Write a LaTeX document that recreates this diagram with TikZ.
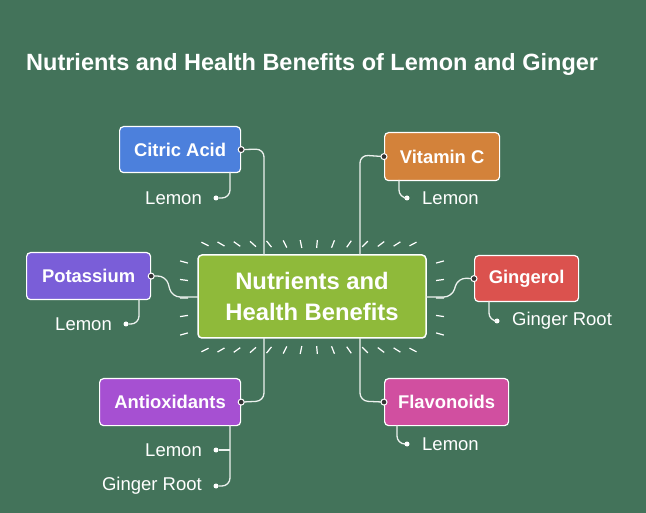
\documentclass[tikz,border=0pt]{standalone}
\usepackage{fontspec}
\setmainfont{Liberation Sans}
\usetikzlibrary{calc}
\definecolor{bg}{HTML}{43735A}
\definecolor{cblue}{HTML}{4C80DC}
\definecolor{corange}{HTML}{D3823A}
\definecolor{cpurple}{HTML}{7A5ED8}
\definecolor{cred}{HTML}{DB524E}
\definecolor{cviolet}{HTML}{A650D2}
\definecolor{cpink}{HTML}{D14FA0}
\definecolor{cgreen}{HTML}{8FBA3A}
\tikzset{
  box/.style={draw=white, line width=1.2pt, rounded corners=4pt, text=white, font=\bfseries\fontsize{18.4}{20}\selectfont, inner sep=0pt, anchor=north west},
  lab/.style={text=white, font=\fontsize{18.5}{20}\selectfont, inner sep=0pt},
  con/.style={draw=white!90!bg, line width=1.3pt, rounded corners=8pt},
  dot/.style={circle, fill=white, inner sep=0pt, minimum size=5pt},
  pin/.style={circle, fill=black!80, draw=white, line width=1pt, inner sep=0pt, minimum size=6pt},
  ray/.style={draw=white, line width=1.2pt}
}
\begin{document}
\begin{tikzpicture}[x=1pt,y=-1pt]
\fill[bg] (0,0) rectangle (646,513);
\useasboundingbox (0,0) rectangle (646,513);
\node[anchor=west, text=white, font=\bfseries\fontsize{23.5}{26}\selectfont, inner sep=0pt] (title) at (26,64) {Nutrients and Health Benefits of Lemon and Ginger};
% center
\coordinate (c) at (312,297);
\foreach \x in {205,221,...,421} {
  \foreach \y in {244,350} {
    \coordinate (p) at (\x,\y);
    \draw[ray] ($(p)!4pt!(c)$) -- ($(p)!-4pt!(c)$);
  }
}
\foreach \y in {262,280,298,316,334} {
  \foreach \x in {184,440} {
    \coordinate (p) at (\x,\y);
    \draw[ray] ($(p)!4pt!(c)$) -- ($(p)!-4pt!(c)$);
  }
}
\node[box, fill=cgreen, minimum width=228pt, minimum height=83pt, anchor=center, font=\bfseries\fontsize{23.8}{31}\selectfont, align=center, line width=1.5pt] (center) at (312,296.5) {Nutrients and\\Health Benefits};
% boxes
\node[box, fill=cblue, minimum width=121pt, minimum height=46pt] (ca) at (119,126) {Citric Acid};
\node[box, fill=corange, minimum width=115pt, minimum height=48pt] (vc) at (384,132) {Vitamin C};
\node[box, fill=cpurple, minimum width=124pt, minimum height=47pt] (po) at (26,252) {Potassium};
\node[box, fill=cred, minimum width=104pt, minimum height=46pt] (gi) at (474,255) {Gingerol};
\node[box, fill=cviolet, minimum width=141pt, minimum height=47pt] (an) at (99,378) {Antioxidants};
\node[box, fill=cpink, minimum width=124pt, minimum height=47pt] (fl) at (384,378) {Flavonoids};
% main connectors
\coordinate (cat) at (264,255); \coordinate (vct) at (360,255);
\coordinate (anb) at (264,338); \coordinate (flb) at (360,338);
\coordinate (cl) at (198,297); \coordinate (cr) at (426,297);
\draw[con] (ca.east) -- (264,149) -- (cat);
\draw[con] (vc.west) -- (360,155) -- (vct);
\draw[con] (an.east) -- (264,401) -- (anb);
\draw[con] (fl.west) -- (360,401) -- (flb);
\draw[con] (po.east) -- (166,276) -- (172,297) -- (cl);
\draw[con] (gi.west) -- (458,278) -- (452,297) -- (cr);
\node[pin] at (ca.east) {}; \node[pin] at (vc.west) {};
\node[pin] at (an.east) {}; \node[pin] at (fl.west) {};
\node[pin] at (po.east) {}; \node[pin] at (gi.west) {};
% labels
\node[lab, anchor=east] (l1) at (202,198) {Lemon}; \node[dot] (d1) at (216,198) {};
\draw[con] (230,172) -- (230,198) -- (d1);
\node[lab, anchor=west] (l2) at (422,198) {Lemon}; \node[dot] (d2) at (407,198) {};
\draw[con] (399,180) -- (399,198) -- (d2);
\node[lab, anchor=east] (l3) at (112,324) {Lemon}; \node[dot] (d3) at (126,324) {};
\draw[con] (139,299) -- (139,324) -- (d3);
\node[lab, anchor=west] (l4) at (512,321) {Ginger Root}; \node[dot] (d4) at (497,321) {};
\draw[con] (489,301) -- (489,321) -- (d4);
\node[lab, anchor=east] (l5) at (202,450) {Lemon}; \node[dot] (d5) at (216,450) {};
\node[lab, anchor=east] (l6) at (202,486) {Ginger Root}; \node[dot] (d6) at (216,486) {};
\draw[con] (230,425) -- (230,486) -- (d6);
\draw[con] (230,450) -- (d5);
\node[lab, anchor=west] (l7) at (422,444) {Lemon}; \node[dot] (d7) at (407,444) {};
\draw[con] (397,425) -- (397,444) -- (d7);
\end{tikzpicture}
\end{document}
